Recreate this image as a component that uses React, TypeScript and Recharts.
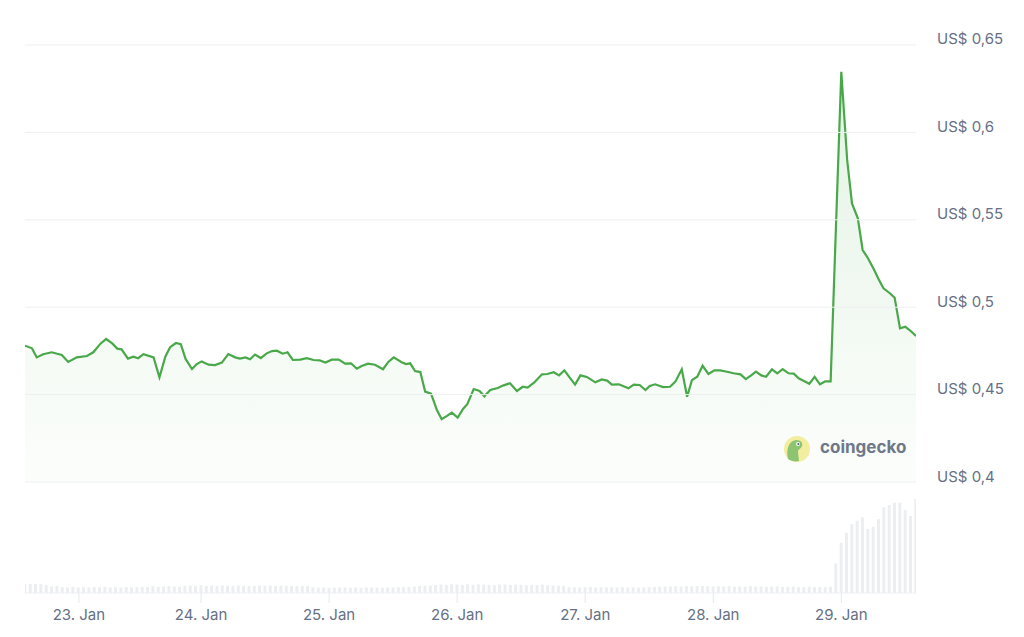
import { Area, AreaChart, Bar, BarChart, ReferenceLine, XAxis, YAxis } from 'recharts';

// hours relative to 23 Jan 00:00
const priceHours = [
  -9.0, -7.7, -6.8, -5.6, -4.0, -2.1, -0.9, 0.7, 2.6, 3.8, 5.1, 6.2, 7.3, 8.3, 9.1, 10.3, 11.3, 12.2, 13.2, 15.1,
  16.2, 17.3, 18.2, 19.3, 20.2, 21.1, 22.3, 23.2, 24.1, 25.4, 26.6, 27.9,
  29.1, 30.4, 31.3, 32.3, 33.2, 34.1, 35.2, 36.3, 37.3, 38.2, 39.3, 40.2, 41.2, 42.6, 43.8, 45.1, 46.2, 47.3, 48.5, 49.8,
  51.0, 52.1, 53.2, 54.1, 55.3, 56.6, 58.1, 59.1, 60.1, 61.6, 62.4, 63.2, 64.1, 65.1, 66.0, 67.1, 68.2, 69.1,
  70.1, 71.0, 72.1, 73.1, 73.9, 75.1, 76.2, 77.1, 78.2, 79.6, 80.7, 81.9, 83.2, 84.3, 85.2, 86.4, 87.9, 88.9, 90.1, 91.1,
  92.1, 93.1, 94.1, 95.1, 96.3, 97.9, 99.1, 100.1, 101.0, 102.3, 104.1, 105.1, 106.2, 107.3, 108.1, 109.1, 110.6, 111.9,
  112.9, 114.1, 115.1, 116.0, 117.0, 118.0, 119.1, 120.2, 121.3, 122.6, 123.8, 125.1, 126.1, 127.1, 128.0, 129.0, 129.9,
  131.0, 132.0, 133.0, 134.1, 135.1, 136.0, 137.0, 138.0, 139.0, 140.0, 141.0, 142.0,
  144.0, 145.1, 146.0, 147.1, 148.0, 149.0, 150.1, 151.0, 151.9, 153.1, 154.0, 155.0, 156.0, 157.0, 158.0,
];

const prices = [
  0.478, 0.4765, 0.4713, 0.4731, 0.4742, 0.4727, 0.4687, 0.4713, 0.4721, 0.4742, 0.479, 0.4818, 0.4794, 0.4763, 0.4759,
  0.4706, 0.4717, 0.4708, 0.4731, 0.4713, 0.4599, 0.4717, 0.4771, 0.4795, 0.4788, 0.4704, 0.4646, 0.4675, 0.469, 0.4671,
  0.4669, 0.4683,
  0.4732, 0.4713, 0.4706, 0.4713, 0.4702, 0.4729, 0.4709, 0.4736, 0.4749, 0.4751, 0.4734, 0.4742, 0.4698, 0.47, 0.4708,
  0.4698, 0.4696, 0.4683, 0.47, 0.47, 0.4677, 0.4679, 0.4648, 0.4664, 0.4677, 0.4671, 0.4645, 0.4687, 0.4713, 0.4685,
  0.4675, 0.4679, 0.4635, 0.4629, 0.4517, 0.4505, 0.4412, 0.4359,
  0.4378, 0.4397, 0.4368, 0.4418, 0.4445, 0.4532, 0.4521, 0.449, 0.4526, 0.4538, 0.4553, 0.4565, 0.4521, 0.4545, 0.454,
  0.4568, 0.4616, 0.4618, 0.4628, 0.461, 0.4639, 0.4597, 0.4557, 0.461, 0.4601, 0.457, 0.4587, 0.458, 0.4557, 0.4559,
  0.4536, 0.4557, 0.4555, 0.4526, 0.4549, 0.4559, 0.4543, 0.4545,
  0.4574, 0.4645, 0.4488, 0.4583, 0.4602, 0.4665, 0.4618, 0.4639, 0.4639, 0.4631, 0.4622, 0.4616, 0.4589, 0.461, 0.4631,
  0.461, 0.4602, 0.4645, 0.4622, 0.4646, 0.4622, 0.462, 0.4593, 0.4578, 0.4562, 0.4602, 0.4559, 0.4576, 0.4576,
  0.6347, 0.5842, 0.5594, 0.5509, 0.5327, 0.528, 0.5217, 0.516, 0.5108, 0.508, 0.5054, 0.4879, 0.4888, 0.4864, 0.4835,
];

// hourly volume, first bar at hour -9 (relative units)
const volumeStartHour = -9;
const volumes = [
  90, 92, 90, 88,
  80, 65, 70, 58, 55, 60,
  55, 58, 56, 60, 58, 62, 56, 58, 55, 60, 57, 58,
  62, 60, 68, 62, 65, 70, 66, 62,
  72, 75, 70, 78, 72, 74, 70, 76, 72, 70, 75, 73, 70, 72, 74,
  72, 75, 70, 74, 72, 70, 68, 72, 70,
  58, 55, 56, 52, 55, 54, 56, 53, 55, 52, 56, 54, 55, 53, 56, 55,
  58, 60, 62, 65, 70, 72, 75, 80, 85, 82, 88,
  85, 80, 88, 82, 86, 84, 80, 78, 84,
  86, 80, 84, 82, 78, 82, 80, 84, 78, 76, 74, 72,
  60, 58, 56, 58, 60, 55, 58, 56, 57, 55, 58, 56, 57, 54, 56, 58,
  60, 62, 64, 66, 68, 65, 70, 68, 70, 72, 68, 66,
  68, 66, 70, 64, 66, 62, 68, 64, 66, 62, 64, 66, 60, 62, 64, 58, 60, 62, 58, 60, 58,
  62,
  297, 503, 603, 688, 723, 757, 640, 663, 737, 857, 880, 903, 903, 830, 770, 940,
];

const priceTicks = [0.4, 0.45, 0.5, 0.55, 0.6, 0.65];
const dayTicks = [1.1, 24, 48, 72, 96, 120, 144];
const dayLabels = ['23. Jan', '24. Jan', '25. Jan', '26. Jan', '27. Jan', '28. Jan', '29. Jan'];

const priceData = priceHours.map((t, i) => ({ t, price: prices[i] }));
const volumeData = volumes.map((vol, i) => ({ t: volumeStartHour + i, vol }));

const W = 1024;
const H = 637;
const FONT = 'Inter, "Noto Sans", sans-serif';
const TEXT = '#667085';
const GREEN = '#49a84a';
const X_DOMAIN = [-9, 158];

function PriceTick({ x, y, payload }: any) {
  return (
    <text x={x} y={y - 6} fill={TEXT} fontSize={15} fontFamily={FONT} dominantBaseline="central">
      {`US$ ${String(payload.value).replace('.', ',')}`}
    </text>
  );
}

function DayTick({ x, y, payload }: any) {
  const i = dayTicks.indexOf(payload.value);
  return (
    <text x={x} y={y} dy={15} fill={TEXT} fontSize={15} fontFamily={FONT} textAnchor="middle">
      {dayLabels[i]}
    </text>
  );
}

export default function App() {
  return (
    <div
      style={{
        position: 'fixed',
        left: 0,
        top: 0,
        width: W,
        height: H,
        background: '#fff',
        overflow: 'hidden',
        fontFamily: FONT,
      }}
    >
      <div style={{ position: 'absolute', left: 0, top: 0 }}>
        <BarChart width={W} height={H} data={volumeData} margin={{ top: 20, right: 108, left: 25, bottom: 14 }}>
          <XAxis
            dataKey="t"
            type="number"
            domain={X_DOMAIN}
            ticks={dayTicks}
            tick={<DayTick />}
            tickSize={10}
            height={30}
            axisLine={{ stroke: '#eef0f3' }}
            tickLine={{ stroke: '#e6e8ec' }}
            allowDataOverflow
          />
          <YAxis hide domain={[0, 5730]} />
          <Bar dataKey="vol" fill="#eceef2" barSize={3} isAnimationActive={false} />
        </BarChart>
      </div>
      <div style={{ position: 'absolute', left: 0, top: 0 }}>
        <AreaChart width={W} height={H} data={priceData} margin={{ top: 20, right: 8, left: 25, bottom: 44 }}>
          <defs>
            <linearGradient id="priceFill" x1="0" y1="0" x2="0" y2="1">
              <stop offset="0%" stopColor="#4caf50" stopOpacity={0.25} />
              <stop offset="100%" stopColor="#4caf50" stopOpacity={0.03} />
            </linearGradient>
          </defs>
          <XAxis dataKey="t" type="number" domain={X_DOMAIN} hide allowDataOverflow />
          <YAxis
            orientation="right"
            domain={[0.3365, 0.6643]}
            ticks={priceTicks}
            tick={<PriceTick />}
            tickSize={0}
            tickMargin={21}
            axisLine={false}
            tickLine={false}
            width={100}
            allowDataOverflow
          />
          {priceTicks.map((v) => (
            <ReferenceLine key={v} y={v} stroke="#eeeff1" strokeWidth={1} />
          ))}
          <Area
            type="linear"
            dataKey="price"
            baseValue={0.4}
            stroke={GREEN}
            strokeWidth={2.2}
            fill="url(#priceFill)"
            dot={false}
            activeDot={false}
            isAnimationActive={false}
          />
        </AreaChart>
      </div>
      <svg style={{ position: 'absolute', left: 780, top: 430 }} width={140} height={40}>
        <circle cx={17} cy={19} r={13} fill="#f3eda0" />
        <path d="M8 29 C6 21 8 11 16 10 C21 10 23 13 22 16 C21 19 18 19 18 22 L19 31 C15 32 11 31 8 29 Z" fill="#8cc472" />
        <circle cx={18} cy={14} r={2} fill="#fff" />
        <circle cx={18.3} cy={14} r={1} fill="#4a5560" />
        <text x={40} y={23} fontSize={17} fontWeight={700} fill="#6f7888" fontFamily={FONT}>
          coingecko
        </text>
      </svg>
    </div>
  );
}
